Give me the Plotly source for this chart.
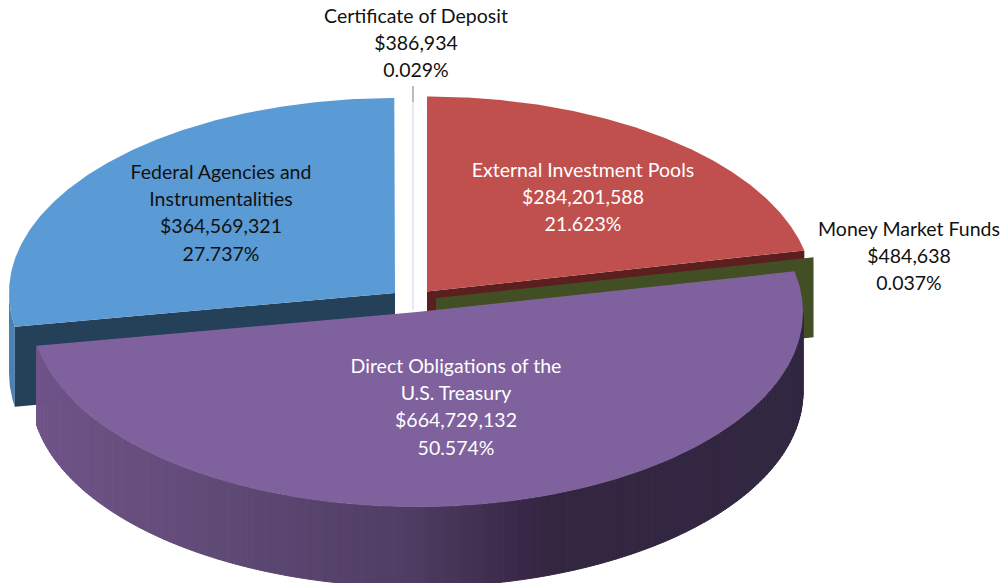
import math
import plotly.graph_objects as go

# Data
categories = ["External Investment Pools", "Money Market Funds",
              "Direct Obligations of the U.S. Treasury",
              "Federal Agencies and Instrumentalities", "Certificate of Deposit"]
values = [284201588, 484638, 664729132, 364569321, 386934]

# Pie geometry (pixels)
RX, RY, DEPTH = 386, 195, 80
centers = {"ext": (427, 291.5), "mm": (436, 298), "dir": (417, 312), "fed": (395, 293), "cd": (413, 297)}

# Colours
TOP = {"ext": "#bf504d", "dir": "#7f619d", "fed": "#5b9bd5"}
WALL = {"ext": "#5a1f1e", "mm": "#424e24", "fed": "#254059"}
FED_RIM = "#4b80b3"
CD_WALL = "#dde5ee"
LEADER = "#a6a6a6"
RIM_STOPS = [(90, (50, 39, 66)), (160, (50, 38, 64)), (163, (56, 38, 70)), (170, (65, 47, 80)),
             (182, (80, 62, 100)), (214, (97, 75, 120)), (235, (107, 80, 130)), (260, (112, 84, 138))]

total = sum(values)
shares = [v / total for v in values]
cum = [0]
for s in shares:
    cum.append(cum[-1] + s)
ang = [c * 360 for c in cum]


def pt(center, theta, drop=0):
    t = math.radians(theta)
    return center[0] + RX * math.sin(t), center[1] - RY * math.cos(t) + drop


def arc(center, a, b, drop=0, step=0.5):
    n = max(2, int(abs(b - a) / step) + 1)
    return [pt(center, a + (b - a) * i / (n - 1), drop) for i in range(n)]


fig = go.Figure()


def poly(points, color, edge=False):
    fig.add_trace(go.Scatter(
        x=[p[0] for p in points] + [points[0][0]],
        y=[p[1] for p in points] + [points[0][1]],
        mode="lines", fill="toself", fillcolor=color,
        line=dict(color=color, width=1 if edge else 0),
        hoverinfo="skip", showlegend=False))


def wall(center, theta, color):
    o = pt(center, theta)
    poly([center, o, (o[0], o[1] + DEPTH), (center[0], center[1] + DEPTH)], color)


def sector(center, a, b, color):
    poly([center] + arc(center, a, b), color)


def rim_color(theta):
    for (a, ca), (b, cb) in zip(RIM_STOPS, RIM_STOPS[1:]):
        if a <= theta <= b:
            f = (theta - a) / (b - a)
            return "rgb(%d,%d,%d)" % tuple(round(x + (y - x) * f) for x, y in zip(ca, cb))
    return "rgb(%d,%d,%d)" % RIM_STOPS[-1][1]


# Back pieces first
wall(centers["ext"], ang[1], WALL["ext"])
wall(centers["mm"], ang[2], WALL["mm"])
sector(centers["ext"], ang[0], ang[1], TOP["ext"])

# Federal agencies
c = centers["fed"]
poly(arc(c, ang[3], 270) + arc(c, 270, ang[3], DEPTH), FED_RIM)
wall(c, ang[3], WALL["fed"])
sector(c, ang[3], ang[4], TOP["fed"])

# Certificate of deposit sliver and its leader line
c = centers["cd"]
fig.add_trace(go.Scatter(x=[c[0], c[0]], y=[c[1] + 13, c[1] - RY], mode="lines",
                         line=dict(color=CD_WALL, width=1.5), hoverinfo="skip", showlegend=False))
fig.add_trace(go.Scatter(x=[c[0], c[0]], y=[c[1] - RY, c[1] - RY - 16], mode="lines",
                         line=dict(color=LEADER, width=1.5), hoverinfo="skip", showlegend=False))

# Direct obligations: graded rim, then top
c = centers["dir"]
a0, a1 = max(ang[2], 90), ang[3]
STEP = 1
t = a0
while t < a1:
    u = min(t + STEP, a1)
    poly(arc(c, t, u) + arc(c, u, t, DEPTH), rim_color((t + u) / 2), edge=True)
    t = u
sector(c, ang[2], ang[3], TOP["dir"])


# Labels
def fmt(i):
    return ["$%s" % format(values[i], ","), "%.3f%%" % (shares[i] * 100)]


def label(lines, x, y0, color):
    LH = 27.3
    fig.add_trace(go.Scatter(
        x=[x] * len(lines), y=[y0 + k * LH for k in range(len(lines))],
        text=lines, mode="text", textposition="middle center",
        textfont=dict(family="Lato", size=19.5, color=color),
        hoverinfo="skip", showlegend=False))


label([categories[0]] + fmt(0), 583, 172, "#ffffff")
label([categories[1]] + fmt(1), 909, 231, "#111111")
label(["Direct Obligations of the", "U.S. Treasury"] + fmt(2), 456, 368, "#ffffff")
label(["Federal Agencies and", "Instrumentalities"] + fmt(3), 221, 174, "#111111")
label([categories[4]] + fmt(4), 416, 18, "#111111")

fig.update_layout(
    width=1004, height=583, margin=dict(l=0, r=0, t=0, b=0),
    paper_bgcolor="white", plot_bgcolor="white", showlegend=False,
    xaxis=dict(range=[0, 1004], visible=False, fixedrange=True),
    yaxis=dict(range=[583, 0], visible=False, fixedrange=True),
)
fig.write_html("out.html", config={"displayModeBar": False},
               post_script="document.body.style.margin='0';document.documentElement.style.overflow='hidden';")
